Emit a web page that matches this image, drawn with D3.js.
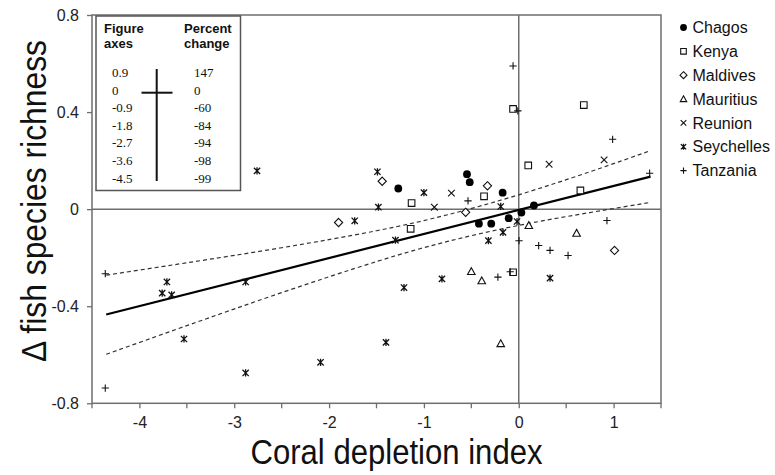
<!DOCTYPE html>
<html><head><meta charset="utf-8">
<script src="https://cdn.jsdelivr.net/npm/d3@7"></script>
<style>body{margin:0;background:#fff}svg{display:block}</style>
</head><body><svg id="c" width="775" height="475"></svg>
<script>
// ---- data ----
const countries = ["Chagos","Kenya","Maldives","Mauritius","Reunion","Seychelles","Tanzania"];
const chagos = [[-1.27,0.085],[-0.546,0.144],[-0.517,0.111],[-0.17,0.068],[0.16,0.015],[0.028,-0.014],[-0.42,-0.06],[-0.29,-0.06],[-0.106,-0.037]];
const kenya = [[-0.06,0.413],[0.10,0.18],[0.686,0.429],[0.65,0.077],[-1.13,0.025],[-0.366,0.053],[-1.14,-0.081],[-0.06,-0.26]];
const maldives = [[-1.44,0.115],[-0.33,0.096],[-0.56,-0.013],[-1.90,-0.055],[1.01,-0.17]];
const mauritius = [[0.106,-0.067],[0.61,-0.099],[-0.5,-0.257],[-0.39,-0.295],[-0.19,-0.554]];
const reunion = [[-0.71,0.066],[-0.89,0.008],[0.32,0.185],[0.90,0.203]];
const seychelles = [[-1.49,0.154],[-1.0,0.068],[-1.48,0.008],[-0.19,0.011],[-1.73,-0.048],[-1.30,-0.128],[-0.018,-0.051],[-0.166,-0.096],[-0.32,-0.13],[-0.81,-0.287],[-1.21,-0.323],[-1.40,-0.549],[-2.09,-0.631],[0.33,-0.284],[-2.76,0.158],[-3.71,-0.30],[-3.76,-0.346],[-3.66,-0.353],[-2.88,-0.30],[-3.53,-0.535],[-2.88,-0.675]];
const tanzania = [[-0.06,0.59],[-0.01,0.405],[0.99,0.288],[1.38,0.148],[-0.535,0.034],[0.93,-0.047],[0.003,-0.13],[0.21,-0.15],[0.33,-0.17],[0.52,-0.191],[-0.22,-0.28],[-0.09,-0.258],[-4.36,-0.266],[-4.36,-0.737]];
const seriesValues = [chagos,kenya,maldives,mauritius,reunion,seychelles,tanzania];
const fitX = [-4.35, 1.39];
const fitY = [-0.434, 0.134];
const bandX = [-4.35,-3.5,-2.5,-1.5,-0.75,0,0.75,1.39];
const bandUpper = [-0.272,-0.221,-0.159,-0.089,-0.023,0.059,0.154,0.241];
const bandLower = [-0.598,-0.480,-0.344,-0.216,-0.133,-0.067,-0.014,0.028];
const xTicks = [-4,-3,-2,-1,0,1];
const xTickLabels = ["-4","-3","-2","-1","0","1"];
const xMinorTicks = [-4.5,-3.5,-2.5,-1.5,-0.5,0.5,1.5];
const yTicks = [0.8,0.4,0,-0.4,-0.8];
const yTickLabels = ["0.8","0.4","0","-0.4","-0.8"];
const insetAxes = ["0.9","0","-0.9","-1.8","-2.7","-3.6","-4.5"];
const insetPercent = ["147","0","-60","-84","-94","-98","-99"];

// ---- drawing ----
const svg = d3.select("#c");
const x = d3.scaleLinear().domain([-4.5,1.5]).range([92,661]);
const y = d3.scaleLinear().domain([-0.8,0.8]).range([403.3,15]);
const gray = "#6e6e6e";
const sans = "'Liberation Sans', Arial, sans-serif";
const serif = "'Liberation Serif', 'Times New Roman', serif";

// frame
svg.append("rect").attr("x",x(-4.5)).attr("y",y(0.8)).attr("width",x(1.5)-x(-4.5)).attr("height",y(-0.8)-y(0.8))
  .attr("fill","none").attr("stroke",gray).attr("stroke-width",1.5);
// zero lines
svg.append("line").attr("x1",x(-4.5)).attr("x2",x(1.5)).attr("y1",y(0)).attr("y2",y(0)).attr("stroke",gray).attr("stroke-width",1.5);
svg.append("line").attr("x1",x(0)).attr("x2",x(0)).attr("y1",y(0.8)).attr("y2",y(-0.8)).attr("stroke",gray).attr("stroke-width",1.5);

// axes
const xAxis = d3.axisBottom(x).tickValues(xTicks).tickSize(5).tickPadding(8).tickFormat((d,i)=>xTickLabels[i]);
const gx = svg.append("g").attr("transform",`translate(0,${y(-0.8)})`).call(xAxis);
gx.select(".domain").remove();
gx.selectAll("line").attr("stroke",gray).attr("stroke-width",1.3);
gx.selectAll("text").attr("font-family",sans).attr("font-size",16).attr("fill","#222");
svg.append("g").attr("transform",`translate(0,${y(-0.8)})`).selectAll("line").data(xMinorTicks).join("line")
  .attr("x1",d=>x(d)).attr("x2",d=>x(d)).attr("y1",0).attr("y2",5).attr("stroke",gray).attr("stroke-width",1.3);

const yAxis = d3.axisLeft(y).tickValues(yTicks).tickSize(5).tickPadding(8).tickFormat((d,i)=>yTickLabels[i]);
const gy = svg.append("g").attr("transform",`translate(${x(-4.5)},0)`).call(yAxis);
gy.select(".domain").remove();
gy.selectAll("line").attr("stroke",gray).attr("stroke-width",1.3);
gy.selectAll("text").attr("font-family",sans).attr("font-size",16).attr("fill","#222");

// axis titles
svg.append("text").attr("x",396.5).attr("y",464).attr("text-anchor","middle")
  .attr("font-family",sans).attr("font-size",35).attr("textLength",292).attr("lengthAdjust","spacingAndGlyphs")
  .attr("fill","#111").text("Coral depletion index");
svg.append("text").attr("transform","translate(46,201) rotate(-90)").attr("text-anchor","middle")
  .attr("font-family",sans).attr("font-size",35).attr("textLength",322).attr("lengthAdjust","spacingAndGlyphs")
  .attr("fill","#111").text("Δ fish species richness");

// regression + band
const line = d3.line().x(d=>x(d[0])).y(d=>y(d[1]));
const curved = d3.line().x(d=>x(d[0])).y(d=>y(d[1])).curve(d3.curveNatural);
svg.append("path").attr("d",curved(bandX.map((v,i)=>[v,bandUpper[i]]))).attr("fill","none")
  .attr("stroke","#333").attr("stroke-width",1.2).attr("stroke-dasharray","4,3");
svg.append("path").attr("d",curved(bandX.map((v,i)=>[v,bandLower[i]]))).attr("fill","none")
  .attr("stroke","#333").attr("stroke-width",1.2).attr("stroke-dasharray","4,3");
svg.append("path").attr("d",line(fitX.map((v,i)=>[v,fitY[i]]))).attr("fill","none")
  .attr("stroke","#000").attr("stroke-width",2.2);

// marker shapes
function marker(g, k, cx, cy, s){
  const c = "#111";
  if(k===0){ g.append("circle").attr("cx",cx).attr("cy",cy).attr("r",s+0.6).attr("fill","#000"); return; }
  const p = d3.path();
  if(k===1){ p.rect(cx-s,cy-s,2*s,2*s); }
  else if(k===2){ const d=s*1.25; p.moveTo(cx,cy-d); p.lineTo(cx+d,cy); p.lineTo(cx,cy+d); p.lineTo(cx-d,cy); p.closePath(); }
  else if(k===3){ const h=s*1.15; p.moveTo(cx,cy-h); p.lineTo(cx+s*1.15,cy+h*0.8); p.lineTo(cx-s*1.15,cy+h*0.8); p.closePath(); }
  else if(k===4){ p.moveTo(cx-s,cy-s); p.lineTo(cx+s,cy+s); p.moveTo(cx+s,cy-s); p.lineTo(cx-s,cy+s); }
  else if(k===5){ const a=s*0.95; p.moveTo(cx-a,cy-a); p.lineTo(cx+a,cy+a); p.moveTo(cx+a,cy-a); p.lineTo(cx-a,cy+a); p.moveTo(cx,cy-s*1.1); p.lineTo(cx,cy+s*1.1); }
  else if(k===6){ p.moveTo(cx-s*1.1,cy); p.lineTo(cx+s*1.1,cy); p.moveTo(cx,cy-s*1.1); p.lineTo(cx,cy+s*1.1); }
  g.append("path").attr("d",p.toString()).attr("fill", (k>=1&&k<=3)?"#fff":"none").attr("stroke",c).attr("stroke-width",k===5?1.3:1.1);
}
const gp = svg.append("g");
seriesValues.forEach((arr,k)=>{
  arr.forEach(d=>marker(gp,k,x(d[0]),y(d[1]),3.3));
});

// inset box
const inset = svg.append("g");
inset.append("rect").attr("x",96).attr("y",16).attr("width",144.5).attr("height",174.5)
  .attr("fill","#fff").attr("stroke","#555").attr("stroke-width",1.5);
[["Figure",104,33],["axes",104,48],["Percent",184,33],["change",184,48]].forEach(t=>{
  inset.append("text").attr("x",t[1]).attr("y",t[2]).attr("font-family",sans).attr("font-weight","bold")
    .attr("font-size",13).attr("fill","#111").text(t[0]);
});
insetAxes.forEach((t,i)=>{
  inset.append("text").attr("x",112).attr("y",77+i*17.6).attr("font-family",serif).attr("font-size",13).attr("fill","#111").text(t);
});
insetPercent.forEach((t,i)=>{
  inset.append("text").attr("x",194).attr("y",77+i*17.6).attr("font-family",serif).attr("font-size",13).attr("fill","#111").text(t);
});
inset.append("line").attr("x1",156.7).attr("x2",156.7).attr("y1",69).attr("y2",181).attr("stroke","#111").attr("stroke-width",2);
inset.append("line").attr("x1",141.5).attr("x2",172.5).attr("y1",92.7).attr("y2",92.7).attr("stroke","#111").attr("stroke-width",2);

// legend
const lg = svg.append("g");
countries.forEach((name,k)=>{
  const cy = 27.5 + k*23.85;
  marker(lg,k,683.5,cy,2.8);
  lg.append("text").attr("x",692.5).attr("y",cy+5.6).attr("font-family",sans).attr("font-size",16).attr("fill","#111").text(name);
});
</script></body></html>
